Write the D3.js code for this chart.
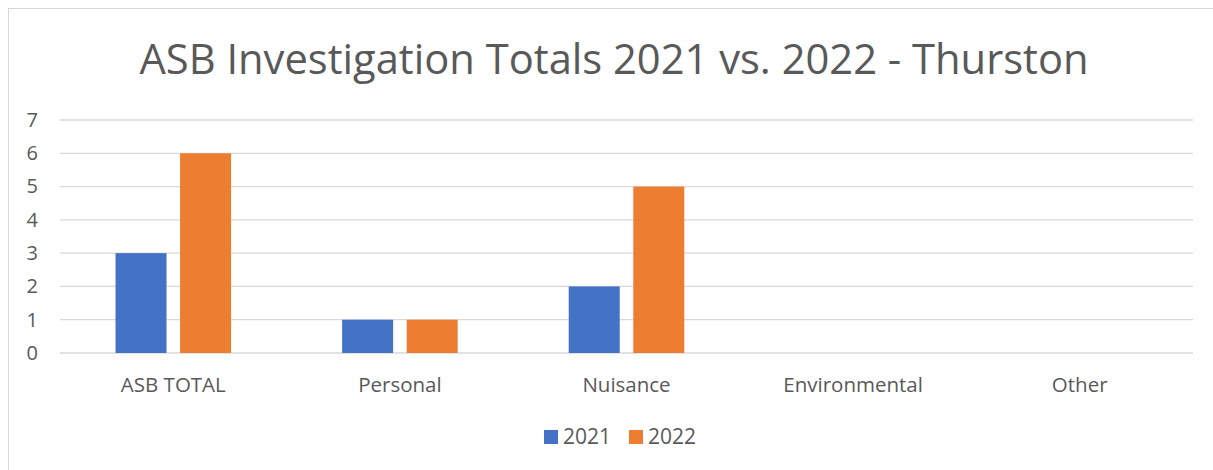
<!DOCTYPE html>
<html>
<head>
<meta charset="utf-8">
<title>ASB Investigation Totals</title>
<style>
  body { margin: 0; background: #fff; }
  text { font-family: "Open Sans", "Noto Sans", sans-serif; fill: #595959; }
</style>
</head>
<body>
<script src="https://d3js.org/d3.v7.min.js"></script>
<script>
// chart values
var categories = ["ASB TOTAL", "Personal", "Nuisance", "Environmental", "Other"];
var seriesNames = ["2021", "2022"];
var values2021 = [3, 1, 2, 0, 0];
var values2022 = [6, 1, 5, 0, 0];
var yTicks = [0, 1, 2, 3, 4, 5, 6, 7];
var colors = ["#4472C4", "#ED7D31"];

var W = 1213, H = 470;
var plot = {left: 60, right: 1193, top: 120, bottom: 353};

var svg = d3.select("body").append("svg")
    .attr("width", W)
    .attr("height", H);

// chart border (only top/left edges visible in the crop)
svg.append("rect")
    .attr("x", 8.5).attr("y", 8.5)
    .attr("width", W + 20).attr("height", H + 20)
    .attr("fill", "none")
    .attr("stroke", "#d9d9d9");

var x0 = d3.scaleBand().domain(categories).range([plot.left, plot.right]).padding(0);
var x1 = d3.scaleBand().domain(seriesNames).range([0, x0.bandwidth()])
    .paddingInner(0.21).paddingOuter(0.86);
var y = d3.scaleLinear().domain([0, 7]).range([plot.bottom, plot.top]);

// gridlines
svg.append("g")
    .selectAll("line")
    .data(yTicks)
    .join("line")
    .attr("x1", plot.left).attr("x2", plot.right)
    .attr("y1", function(d) { return y(d); })
    .attr("y2", function(d) { return y(d); })
    .attr("stroke", "#d9d9d9")
    .attr("stroke-width", 1.3);

// y labels
var yAxis = svg.append("g")
    .attr("transform", "translate(" + (plot.left - 22) + ",0)")
    .call(d3.axisLeft(y).tickValues(yTicks).tickFormat(d3.format("d")).tickSize(0).tickPadding(0));
yAxis.select(".domain").remove();
yAxis.selectAll("text")
    .attr("font-size", 20)
    .style("font-family", "'Open Sans', sans-serif")
    .attr("fill", "#595959");

// x labels
var xAxis = svg.append("g")
    .attr("transform", "translate(0," + plot.bottom + ")")
    .call(d3.axisBottom(x0).tickSize(0).tickPadding(0));
xAxis.select(".domain").remove();
xAxis.selectAll("text")
    .attr("font-size", 20.5)
    .attr("dy", null)
    .attr("y", 39)
    .style("font-family", "'Open Sans', sans-serif")
    .attr("fill", "#595959");

// bars
var rows = categories.map(function(c, i) {
    return {cat: c, vals: [
        {s: seriesNames[0], v: values2021[i]},
        {s: seriesNames[1], v: values2022[i]}
    ]};
});

svg.append("g")
    .selectAll("g")
    .data(rows)
    .join("g")
    .attr("transform", function(d) { return "translate(" + x0(d.cat) + ",0)"; })
    .selectAll("rect")
    .data(function(d) { return d.vals.filter(function(e) { return e.v > 0; }); })
    .join("rect")
    .attr("x", function(d) { return x1(d.s); })
    .attr("y", function(d) { return y(d.v); })
    .attr("width", x1.bandwidth())
    .attr("height", function(d) { return y(0) - y(d.v); })
    .attr("fill", function(d) { return colors[seriesNames.indexOf(d.s)]; });

// title
svg.append("text")
    .attr("x", 614)
    .attr("y", 74)
    .attr("text-anchor", "middle")
    .attr("font-size", 41.7)
    .text("ASB Investigation Totals 2021 vs. 2022 - Thurston");

// legend
var legend = svg.append("g");
var legX = [544, 629];
seriesNames.forEach(function(s, i) {
    legend.append("rect")
        .attr("x", legX[i]).attr("y", 430)
        .attr("width", 14).attr("height", 14)
        .attr("fill", colors[i]);
    legend.append("text")
        .attr("x", legX[i] + 19).attr("y", 444)
        .attr("font-size", 21)
        .text(s);
});
</script>
</body>
</html>
